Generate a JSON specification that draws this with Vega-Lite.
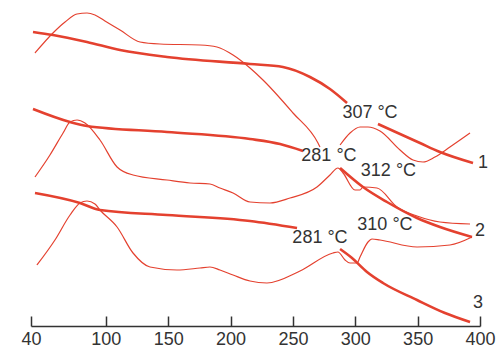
{
  "$schema": "https://vega.github.io/schema/vega-lite/v6.json",
  "autosize": "none",
  "width": 449,
  "height": 321,
  "padding": {"left": 31, "top": 5, "right": 22, "bottom": 24},
  "background": "white",
  "config": {"view": {"stroke": null}, "font": "Liberation Sans"},
  "datasets": {
    "curves": [
      {"curve": "TG1a", "kind": "TG", "t": 41.6, "v": 294},
      {"curve": "TG1a", "kind": "TG", "t": 57.6, "v": 291},
      {"curve": "TG1a", "kind": "TG", "t": 84.9, "v": 284},
      {"curve": "TG1a", "kind": "TG", "t": 111.4, "v": 276},
      {"curve": "TG1a", "kind": "TG", "t": 149, "v": 269},
      {"curve": "TG1a", "kind": "TG", "t": 215.6, "v": 262},
      {"curve": "TG1a", "kind": "TG", "t": 242, "v": 259},
      {"curve": "TG1a", "kind": "TG", "t": 263.7, "v": 249},
      {"curve": "TG1a", "kind": "TG", "t": 279.7, "v": 237},
      {"curve": "TG1a", "kind": "TG", "t": 293.4, "v": 223},
      {"curve": "TG1b", "kind": "TG", "t": 318.2, "v": 202},
      {"curve": "TG1b", "kind": "TG", "t": 335.9, "v": 192},
      {"curve": "TG1b", "kind": "TG", "t": 351.9, "v": 183},
      {"curve": "TG1b", "kind": "TG", "t": 367.9, "v": 174},
      {"curve": "TG1b", "kind": "TG", "t": 394.4, "v": 163},
      {"curve": "DSC1a", "kind": "DSC", "t": 43.2, "v": 273},
      {"curve": "DSC1a", "kind": "DSC", "t": 57.6, "v": 293},
      {"curve": "DSC1a", "kind": "DSC", "t": 67.3, "v": 304},
      {"curve": "DSC1a", "kind": "DSC", "t": 76.9, "v": 312},
      {"curve": "DSC1a", "kind": "DSC", "t": 84.9, "v": 313},
      {"curve": "DSC1a", "kind": "DSC", "t": 91.3, "v": 311},
      {"curve": "DSC1a", "kind": "DSC", "t": 99.3, "v": 305},
      {"curve": "DSC1a", "kind": "DSC", "t": 111.4, "v": 296},
      {"curve": "DSC1a", "kind": "DSC", "t": 127.4, "v": 284},
      {"curve": "DSC1a", "kind": "DSC", "t": 143.4, "v": 282},
      {"curve": "DSC1a", "kind": "DSC", "t": 175.5, "v": 281},
      {"curve": "DSC1a", "kind": "DSC", "t": 189.1, "v": 279},
      {"curve": "DSC1a", "kind": "DSC", "t": 202, "v": 271},
      {"curve": "DSC1a", "kind": "DSC", "t": 215.6, "v": 258},
      {"curve": "DSC1a", "kind": "DSC", "t": 226, "v": 246},
      {"curve": "DSC1a", "kind": "DSC", "t": 250.1, "v": 213},
      {"curve": "DSC1a", "kind": "DSC", "t": 270.1, "v": 183},
      {"curve": "DSC1a", "kind": "DSC", "t": 271.7, "v": 179},
      {"curve": "DSC1b", "kind": "DSC", "t": 287.8, "v": 181},
      {"curve": "DSC1b", "kind": "DSC", "t": 295.8, "v": 193},
      {"curve": "DSC1b", "kind": "DSC", "t": 303.8, "v": 199},
      {"curve": "DSC1b", "kind": "DSC", "t": 310.2, "v": 199},
      {"curve": "DSC1b", "kind": "DSC", "t": 319.8, "v": 195},
      {"curve": "DSC1b", "kind": "DSC", "t": 335.9, "v": 176},
      {"curve": "DSC1b", "kind": "DSC", "t": 346.3, "v": 166},
      {"curve": "DSC1b", "kind": "DSC", "t": 354.3, "v": 164},
      {"curve": "DSC1b", "kind": "DSC", "t": 363.9, "v": 169},
      {"curve": "DSC1b", "kind": "DSC", "t": 375.9, "v": 179},
      {"curve": "DSC1b", "kind": "DSC", "t": 392, "v": 193},
      {"curve": "TG2a", "kind": "TG", "t": 41.6, "v": 217},
      {"curve": "TG2a", "kind": "TG", "t": 71.3, "v": 204},
      {"curve": "TG2a", "kind": "TG", "t": 84.9, "v": 200},
      {"curve": "TG2a", "kind": "TG", "t": 149, "v": 194},
      {"curve": "TG2a", "kind": "TG", "t": 215.6, "v": 187},
      {"curve": "TG2a", "kind": "TG", "t": 239.7, "v": 182},
      {"curve": "TG2a", "kind": "TG", "t": 258.1, "v": 175},
      {"curve": "TG2b", "kind": "TG", "t": 287.8, "v": 158},
      {"curve": "TG2b", "kind": "TG", "t": 306.2, "v": 139},
      {"curve": "TG2b", "kind": "TG", "t": 325.4, "v": 124},
      {"curve": "TG2b", "kind": "TG", "t": 349.5, "v": 108},
      {"curve": "TG2b", "kind": "TG", "t": 367.9, "v": 99},
      {"curve": "TG2b", "kind": "TG", "t": 393.6, "v": 89},
      {"curve": "DSC2", "kind": "DSC", "t": 43.2, "v": 149},
      {"curve": "DSC2", "kind": "DSC", "t": 55.2, "v": 171},
      {"curve": "DSC2", "kind": "DSC", "t": 65.7, "v": 193},
      {"curve": "DSC2", "kind": "DSC", "t": 71.3, "v": 204},
      {"curve": "DSC2", "kind": "DSC", "t": 76.9, "v": 206},
      {"curve": "DSC2", "kind": "DSC", "t": 83.3, "v": 203},
      {"curve": "DSC2", "kind": "DSC", "t": 95.3, "v": 186},
      {"curve": "DSC2", "kind": "DSC", "t": 109, "v": 159},
      {"curve": "DSC2", "kind": "DSC", "t": 121.8, "v": 151},
      {"curve": "DSC2", "kind": "DSC", "t": 149, "v": 146},
      {"curve": "DSC2", "kind": "DSC", "t": 167.5, "v": 143},
      {"curve": "DSC2", "kind": "DSC", "t": 183.5, "v": 142},
      {"curve": "DSC2", "kind": "DSC", "t": 191.5, "v": 138},
      {"curve": "DSC2", "kind": "DSC", "t": 202, "v": 133},
      {"curve": "DSC2", "kind": "DSC", "t": 215.6, "v": 124},
      {"curve": "DSC2", "kind": "DSC", "t": 231.6, "v": 123},
      {"curve": "DSC2", "kind": "DSC", "t": 247.7, "v": 128},
      {"curve": "DSC2", "kind": "DSC", "t": 269.3, "v": 139},
      {"curve": "DSC2", "kind": "DSC", "t": 279.7, "v": 151},
      {"curve": "DSC2", "kind": "DSC", "t": 286.1, "v": 158},
      {"curve": "DSC2", "kind": "DSC", "t": 290.2, "v": 153},
      {"curve": "DSC2", "kind": "DSC", "t": 299.8, "v": 136},
      {"curve": "DSC2", "kind": "DSC", "t": 303.8, "v": 136},
      {"curve": "DSC2", "kind": "DSC", "t": 306.2, "v": 139},
      {"curve": "DSC2", "kind": "DSC", "t": 317.4, "v": 138},
      {"curve": "DSC2", "kind": "DSC", "t": 333.5, "v": 119},
      {"curve": "DSC2", "kind": "DSC", "t": 349.5, "v": 110},
      {"curve": "DSC2", "kind": "DSC", "t": 367.9, "v": 104},
      {"curve": "DSC2", "kind": "DSC", "t": 392, "v": 102},
      {"curve": "TG3a", "kind": "TG", "t": 43.2, "v": 133},
      {"curve": "TG3a", "kind": "TG", "t": 79.3, "v": 123},
      {"curve": "TG3a", "kind": "TG", "t": 95.3, "v": 116},
      {"curve": "TG3a", "kind": "TG", "t": 149, "v": 111},
      {"curve": "TG3a", "kind": "TG", "t": 215.6, "v": 105},
      {"curve": "TG3a", "kind": "TG", "t": 253.3, "v": 98},
      {"curve": "TG3b", "kind": "TG", "t": 287.8, "v": 77},
      {"curve": "TG3b", "kind": "TG", "t": 297.4, "v": 68},
      {"curve": "TG3b", "kind": "TG", "t": 309.4, "v": 54},
      {"curve": "TG3b", "kind": "TG", "t": 322.2, "v": 43},
      {"curve": "TG3b", "kind": "TG", "t": 349.5, "v": 26},
      {"curve": "TG3b", "kind": "TG", "t": 371.9, "v": 13},
      {"curve": "TG3b", "kind": "TG", "t": 392, "v": 4},
      {"curve": "DSC3", "kind": "DSC", "t": 44.8, "v": 61},
      {"curve": "DSC3", "kind": "DSC", "t": 59.2, "v": 86},
      {"curve": "DSC3", "kind": "DSC", "t": 71.3, "v": 111},
      {"curve": "DSC3", "kind": "DSC", "t": 79.3, "v": 123},
      {"curve": "DSC3", "kind": "DSC", "t": 84.9, "v": 125},
      {"curve": "DSC3", "kind": "DSC", "t": 91.3, "v": 122},
      {"curve": "DSC3", "kind": "DSC", "t": 95.3, "v": 116},
      {"curve": "DSC3", "kind": "DSC", "t": 109, "v": 99},
      {"curve": "DSC3", "kind": "DSC", "t": 121.8, "v": 73},
      {"curve": "DSC3", "kind": "DSC", "t": 135.4, "v": 59},
      {"curve": "DSC3", "kind": "DSC", "t": 157, "v": 56},
      {"curve": "DSC3", "kind": "DSC", "t": 175.5, "v": 58},
      {"curve": "DSC3", "kind": "DSC", "t": 183.5, "v": 59},
      {"curve": "DSC3", "kind": "DSC", "t": 191.5, "v": 56},
      {"curve": "DSC3", "kind": "DSC", "t": 202, "v": 51},
      {"curve": "DSC3", "kind": "DSC", "t": 215.6, "v": 45},
      {"curve": "DSC3", "kind": "DSC", "t": 229.2, "v": 43},
      {"curve": "DSC3", "kind": "DSC", "t": 255.7, "v": 55},
      {"curve": "DSC3", "kind": "DSC", "t": 282.1, "v": 73},
      {"curve": "DSC3", "kind": "DSC", "t": 286.1, "v": 74},
      {"curve": "DSC3", "kind": "DSC", "t": 291.8, "v": 66},
      {"curve": "DSC3", "kind": "DSC", "t": 295.8, "v": 63},
      {"curve": "DSC3", "kind": "DSC", "t": 301.4, "v": 63},
      {"curve": "DSC3", "kind": "DSC", "t": 303.8, "v": 69},
      {"curve": "DSC3", "kind": "DSC", "t": 310.2, "v": 84},
      {"curve": "DSC3", "kind": "DSC", "t": 313.4, "v": 87},
      {"curve": "DSC3", "kind": "DSC", "t": 319.8, "v": 86},
      {"curve": "DSC3", "kind": "DSC", "t": 349.5, "v": 79},
      {"curve": "DSC3", "kind": "DSC", "t": 375.9, "v": 81},
      {"curve": "DSC3", "kind": "DSC", "t": 393.6, "v": 89}
    ],
    "labels": [
      {"text": "307 °C", "t": 311.8, "v": 213},
      {"text": "281 °C", "t": 278.9, "v": 170},
      {"text": "312 °C", "t": 326.6, "v": 155},
      {"text": "281 °C", "t": 271.7, "v": 88},
      {"text": "310 °C", "t": 323.8, "v": 101},
      {"text": "1", "t": 402.4, "v": 163},
      {"text": "2", "t": 400, "v": 95},
      {"text": "3", "t": 398.4, "v": 23}
    ]
  },
  "layer": [
    {
      "data": {"name": "curves"},
      "mark": {"type": "line", "interpolate": "monotone", "color": "#e4412f", "clip": false},
      "encoding": {
        "x": {
          "field": "t",
          "type": "quantitative",
          "scale": {"domain": [40, 400], "nice": false, "zero": false},
          "axis": {
            "title": null,
            "values": [40, 100, 150, 200, 250, 300, 350, 400],
            "grid": false,
            "tickSize": -10,
            "tickWidth": 1.5,
            "tickColor": "#333",
            "domainColor": "#333",
            "domainWidth": 1.5,
            "labelFontSize": 18,
            "labelColor": "#333",
            "labelFont": "Liberation Sans",
            "labelPadding": 14,
            "labelFlush": false,
            "labelOverlap": false
          }
        },
        "y": {
          "field": "v",
          "type": "quantitative",
          "scale": {"domain": [0, 321], "nice": false, "zero": false},
          "axis": null
        },
        "detail": {"field": "curve"},
        "strokeWidth": {
          "field": "kind",
          "type": "nominal",
          "scale": {"domain": ["TG", "DSC"], "range": [2.6, 1.2]},
          "legend": null
        }
      }
    },
    {
      "data": {"name": "labels"},
      "mark": {"type": "text", "fontSize": 18, "font": "Liberation Sans", "color": "#333", "align": "center", "baseline": "middle", "clip": false},
      "encoding": {
        "x": {"field": "t", "type": "quantitative"},
        "y": {"field": "v", "type": "quantitative"},
        "text": {"field": "text"}
      }
    },
    {
      "mark": {"type": "rule", "color": "#222", "strokeWidth": 2, "clip": false},
      "encoding": {
        "x": {"datum": 28.8},
        "y": {"datum": 203},
        "y2": {"datum": 91}
      }
    },
    {
      "mark": {"type": "point", "shape": "M-1,2.1L0,0L1,2.1", "filled": false, "color": "#222", "strokeWidth": 2, "size": 196, "opacity": 1, "clip": false},
      "encoding": {
        "x": {"datum": 28.8},
        "y": {"datum": 204}
      }
    }
  ]
}
